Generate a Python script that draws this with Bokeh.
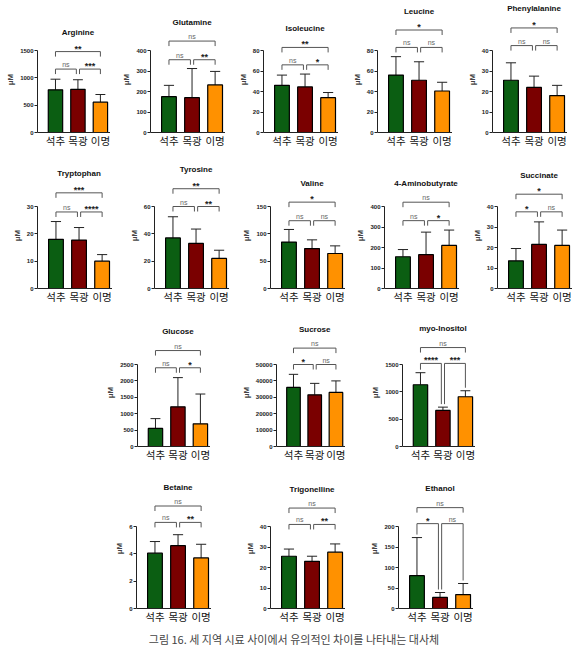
from bokeh.plotting import figure
from bokeh.layouts import column, row, Spacer
from bokeh.models import Range1d, FixedTicker
from bokeh.core.properties import value
from bokeh.embed import file_html
from bokeh.resources import INLINE

GROUPS = ["석추", "목광", "이명"]
COLORS = ["#0b5e12", "#7a0000", "#ff9100"]

METABOLITES = ["Arginine", "Glutamine", "Isoleucine", "Leucine", "Phenylalanine",
               "Tryptophan", "Tyrosine", "Valine", "4-Aminobutyrate", "Succinate",
               "Glucose", "Sucrose", "myo-Inositol",
               "Betaine", "Trigonelline", "Ethanol"]

MEANS = [
    [780, 790, 555],
    [175, 170, 232],
    [46, 44.5, 34],
    [56, 51, 40.5],
    [25.5, 22, 18],
    [18, 17.7, 10],
    [37, 33, 22],
    [85, 73, 64],
    [155, 165, 210],
    [13.5, 21.5, 21],
    [550, 1210, 690],
    [36000, 31500, 33000],
    [1130, 660, 910],
    [4.05, 4.6, 3.7],
    [25.5, 23, 27.5],
    [80, 27, 34],
]

SDS = [
    [195, 175, 140],
    [55, 142, 66],
    [10, 12.5, 5],
    [18, 18, 8.5],
    [8.5, 5.5, 5],
    [6.5, 4.6, 2.4],
    [15.5, 10.5, 6],
    [23, 16, 14],
    [35, 110, 75],
    [6, 11, 7.5],
    [300, 890, 910],
    [8000, 7000, 7000],
    [220, 60, 110],
    [0.85, 0.8, 1.0],
    [3.5, 2.5, 4],
    [93, 12, 27],
]

TOP_TICKS = [1500, 400, 80, 80, 40, 30, 60, 150, 400, 40, 2500, 50000, 1500, 6, 40, 200]
TICK_STEPS = [500, 100, 20, 20, 10, 10, 20, 50, 100, 10, 500, 10000, 500, 2, 10, 50]

# significance labels: (1 vs 2, 2 vs 3, 1 vs 3)
SIG = [
    ["ns", "***", "**"],
    ["ns", "**", "ns"],
    ["ns", "*", "**"],
    ["ns", "ns", "*"],
    ["ns", "ns", "*"],
    ["ns", "****", "***"],
    ["ns", "**", "**"],
    ["ns", "ns", "*"],
    ["ns", "*", "ns"],
    ["*", "ns", "*"],
    ["ns", "*", "ns"],
    ["*", "ns", "ns"],
    ["****", "***", "ns"],
    ["ns", "**", "ns"],
    ["ns", "**", "ns"],
    ["*", "ns", "ns"],
]

# bracket heights: (lower pair, 1 vs 3)
SIG_Y = [
    [1160, 1480],
    [355, 446],
    [66, 83],
    [83, 100],
    [42.4, 51],
    [28, 35],
    [60, 73],
    [124, 158],
    [331, 421],
    [37.4, 46],
    [2400, 2925],
    [50000, 60000],
    [1520, 1810],
    [6.3, 7.5],
    [41, 49],
    [207, 246],
]
# brackets whose legs reach down to the error bars
LONG_LEGS = [False] * 12 + [True, False, False, True]

CAPTION = "그림 16. 세 지역 시료 사이에서 유의적인 차이를 나타내는 대사체"

AXIS_PX = 82      # pixel length of the y axis up to its top tick
FRAME_W = 75
LEG_PX = 5
FONT = "Liberation Sans"
KFONT = "Noto Sans CJK KR"


def panel(i, height, zero_px, left):
    top = TOP_TICKS[i]
    step = TICK_STEPS[i]
    per_px = top / AXIS_PX
    y_end = zero_px * per_px
    y_start = -(height - zero_px) * per_px
    p = figure(width=left + FRAME_W, height=height,
               x_range=Range1d(-0.8, 2.45), y_range=Range1d(y_start, y_end),
               output_backend="svg", toolbar_location=None,
               min_border_left=left, min_border_right=0,
               min_border_top=0, min_border_bottom=0)
    p.outline_line_color = None
    p.xgrid.visible = False
    p.ygrid.visible = False
    p.background_fill_color = None
    p.border_fill_color = None

    xs = [0, 1, 2]
    means = MEANS[i]
    sds = SDS[i]
    tops = [m + s for m, s in zip(means, sds)]
    p.segment(x0=xs, y0=means, x1=xs, y1=tops, line_color="#222222", line_width=1)
    p.segment(x0=[x - 0.22 for x in xs], y0=tops, x1=[x + 0.22 for x in xs], y1=tops,
              line_color="#222222", line_width=1)
    p.vbar(x=xs, top=means, width=0.64, fill_color=COLORS,
           line_color="black", line_width=1.2)

    leg = LEG_PX * per_px
    lo, hi = SIG_Y[i]
    brackets = [(0, 0.93, 0, 1, lo, SIG[i][0], True),
                (1.07, 2, 1, 2, lo, SIG[i][1], True),
                (0, 2, 0, 2, hi, SIG[i][2], False)]
    for (a, b, ka, kb, h, lab, lower) in brackets:
        ya_ = h - leg
        yb_ = h - leg
        if LONG_LEGS[i] and lower:
            ya_ = min(ya_, tops[ka] + 3 * per_px)
            yb_ = min(yb_, tops[kb] + 3 * per_px)
        p.line(x=[a, a, b, b], y=[ya_, h, h, yb_], line_color="#555555", line_width=1)
        is_ns = lab == "ns"
        p.text(x=[(a + b) / 2], y=[h], text=[lab], text_align="center",
               text_baseline="bottom", y_offset=-1 if is_ns else 2,
               text_font=value(FONT),
               text_font_size="7px" if is_ns else "9px",
               text_font_style="normal" if is_ns else "bold",
               text_color="#666666" if is_ns else "#222222")

    title_y = min(hi + 19 * per_px, y_end - 6 * per_px)
    p.text(x=[1], y=[title_y], text=[METABOLITES[i]], text_align="center",
           text_baseline="middle", text_font=value(FONT),
           text_font_size="8px", text_font_style="bold", text_color="#111111")

    ya = p.yaxis[0]
    ya.ticker = FixedTicker(ticks=list(range(0, int(top) + 1, int(step))))
    ya.bounds = (0, top)
    ya.axis_label = "μM"
    ya.axis_label_text_font = FONT
    ya.axis_label_text_font_style = "bold"
    ya.axis_label_text_font_size = "8px"
    ya.axis_label_standoff = 2
    ya.major_label_text_font = FONT
    ya.major_label_text_font_style = "bold"
    ya.major_label_text_font_size = "6px"
    ya.major_label_text_color = "#222222"
    ya.major_label_standoff = 1
    ya.major_tick_out = 3
    ya.major_tick_in = 0
    ya.minor_tick_out = 0
    ya.minor_tick_in = 0
    ya.axis_line_width = 1
    ya.axis_line_color = "#222222"
    ya.major_tick_line_color = "#222222"

    xa = p.xaxis[0]
    xa.fixed_location = 0
    xa.ticker = FixedTicker(ticks=xs)
    xa.major_label_overrides = {x: g for x, g in zip(xs, GROUPS)}
    xa.major_label_text_font = KFONT
    xa.major_label_text_font_size = "10.5px"
    xa.major_label_text_color = "#111111"
    xa.major_label_standoff = 0
    xa.major_tick_out = 0
    xa.major_tick_in = 0
    xa.minor_tick_out = 0
    xa.minor_tick_in = 0
    xa.axis_line_width = 1
    xa.axis_line_color = "#222222"
    return p


def make_row(indices, axis_page_x, height, zero_px):
    children = []
    cursor = 0
    for k, i in enumerate(indices):
        left = 32
        start = axis_page_x[k] - left
        if start < 0:
            left = axis_page_x[k]
            start = 0
        if start > cursor:
            children.append(Spacer(width=start - cursor, height=1))
            cursor = start
        children.append(panel(i, height, zero_px, left))
        cursor += left + FRAME_W
    return row(children)


r1 = make_row([0, 1, 2, 3, 4], [35, 150, 263, 377, 492], 158, 132)
r2 = make_row([5, 6, 7, 8, 9], [37, 154, 270, 384, 497], 154, 130)
r3 = make_row([10, 11, 12], [135, 270, 400], 160, 134)
r4 = make_row([13, 14, 15], [136, 270, 398], 152, 136)

cap = figure(width=587, height=22, x_range=Range1d(0, 1), y_range=Range1d(0, 22),
             output_backend="svg", toolbar_location=None,
             min_border_left=0, min_border_right=0, min_border_top=0, min_border_bottom=0)
cap.axis.visible = False
cap.grid.visible = False
cap.outline_line_color = None
cap.text(x=[0.5], y=[8], text=[CAPTION], text_align="center", text_baseline="middle",
         text_font=value(KFONT), text_font_size="11px", text_color="#444444")

p = column(r1, r2, r3, r4, cap)

open("out.html", "w").write(file_html(p, INLINE))
